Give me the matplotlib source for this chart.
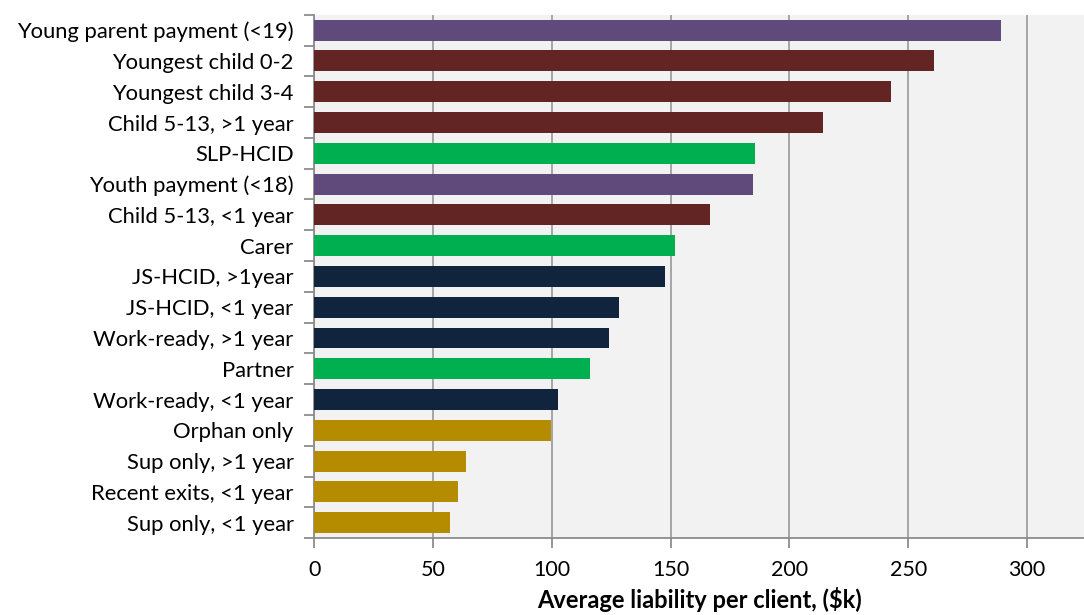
import matplotlib.pyplot as plt

# Categories listed top to bottom
categories = [
    "Young parent payment (<19)", "Youngest child 0-2", "Youngest child 3-4",
    "Child 5-13, >1 year", "SLP-HCID", "Youth payment (<18)", "Child 5-13, <1 year",
    "Carer", "JS-HCID, >1year", "JS-HCID, <1 year", "Work-ready, >1 year",
    "Partner", "Work-ready, <1 year", "Orphan only", "Sup only, >1 year",
    "Recent exits, <1 year", "Sup only, <1 year",
]
liability = [289, 261, 242.7, 214, 185.5, 184.7, 166.6, 151.9, 147.7,
             128.3, 124.1, 116.1, 102.6, 99.7, 63.9, 60.6, 57.2]
groups = ["youth", "parent", "parent", "parent", "health", "youth", "parent",
          "health", "jobseek", "jobseek", "jobseek", "health", "jobseek",
          "other", "other", "other", "other"]

group_colors = {
    "youth": "#604A7B",
    "parent": "#632523",
    "health": "#00B050",
    "jobseek": "#10243E",
    "other": "#B58B00",
}

plt.rcParams['font.family'] = ['Lato', 'DejaVu Sans']

fig = plt.figure(figsize=(10.84, 6.15), dpi=100)
ax = fig.add_axes([0.29, 0.125, 0.71, 0.851])
ax.set_facecolor("#F2F2F2")

ypos = list(range(len(categories)))
ax.barh(ypos, liability, height=0.68,
        color=[group_colors[g] for g in groups], zorder=3)

ax.set_ylim(len(categories) - 0.5, -0.5)
ax.set_xlim(0, 324)

ax.set_xticks(range(0, 301, 50))
ax.xaxis.grid(True, color="#A0A0A0", linewidth=1.3, zorder=0)
ax.set_yticks(ypos)
ax.set_yticklabels(categories, fontsize=15.8)
# tick marks sit between categories
ax.set_yticks([y - 0.5 for y in range(len(categories) + 1)], minor=True)
ax.tick_params(axis="y", which="major", length=0, pad=15)
ax.tick_params(axis="y", which="minor", length=7, width=1.3, color="#8C8C8C")
ax.tick_params(axis="x", length=7, width=1.3, color="#8C8C8C", labelsize=15.5, pad=9)

for side in ("top", "right"):
    ax.spines[side].set_visible(False)
for side in ("left", "bottom"):
    ax.spines[side].set_color("#8C8C8C")
    ax.spines[side].set_linewidth(1.3)

ax.set_xlabel("Average liability per client, ($k)", fontsize=17, fontweight="bold",
              labelpad=5)

fig.savefig("out.png", dpi=100)
